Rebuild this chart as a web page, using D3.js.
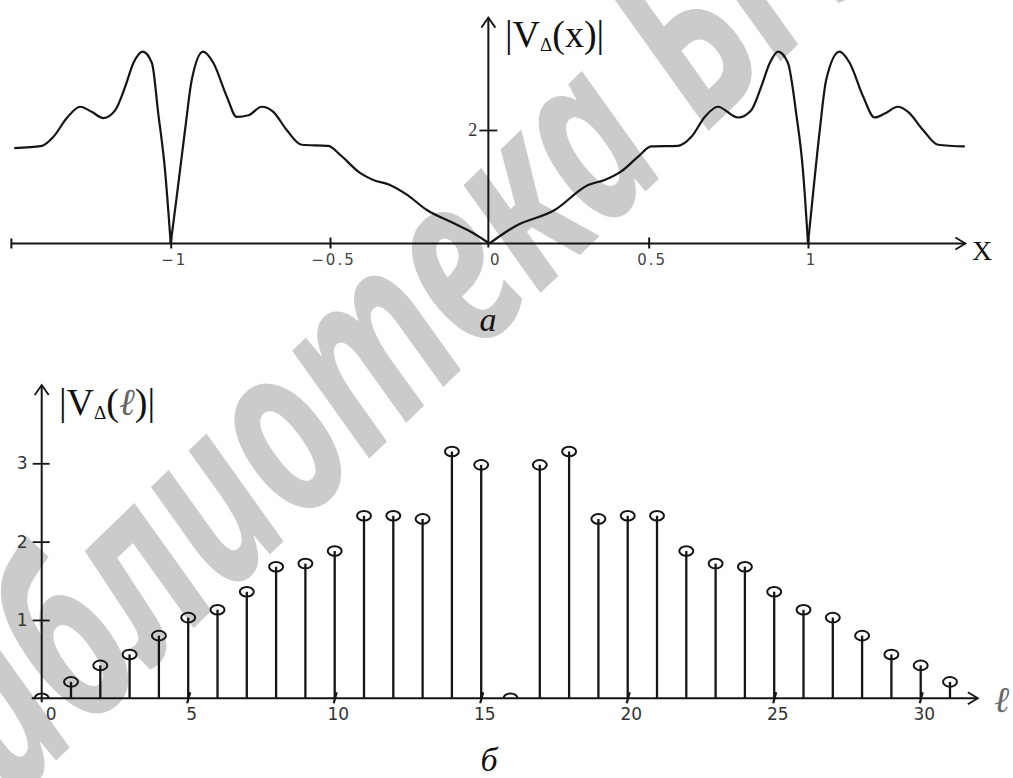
<!DOCTYPE html>
<html>
<head>
<meta charset="utf-8">
<script src="https://cdn.jsdelivr.net/npm/d3@7"></script>
<style>
  body { margin: 0; background: #fff; }
  svg { display: block; }
</style>
</head>
<body>
<div id="chart"></div>
<script>
// ------------------------------
// DATA
// ------------------------------

// curve |V(x)| : x positions and values
const curveX = [-1.491, -1.404, -1.368, -1.326, -1.284, -1.248, -1.211, -1.174, -1.143, -1.117,
  -1.088, -1.059, -1.039, -1.018, -1.0, -0.981, -0.955, -0.934, -0.898, -0.866,
  -0.824, -0.793, -0.756, -0.714, -0.678, -0.636, -0.589, -0.505, -0.468, -0.405,
  -0.364, -0.312, -0.259, -0.196, -0.113, -0.05, 0,
  0.08, 0.205, 0.31, 0.362, 0.414, 0.467, 0.508, 0.592, 0.634,
  0.676, 0.717, 0.78, 0.822, 0.853, 0.88, 0.906, 0.937, 0.963, 0.984,
  1.0, 1.015, 1.037, 1.057, 1.099, 1.131, 1.173, 1.209, 1.241, 1.282,
  1.314, 1.361, 1.408, 1.492];
const curveV = [1.68, 1.72, 1.88, 2.21, 2.41, 2.32, 2.21, 2.35, 2.76, 3.18,
  3.38, 3.18, 2.29, 1.30, 0, 0.83, 2.00, 2.88, 3.38, 3.18,
  2.59, 2.23, 2.26, 2.41, 2.32, 2.00, 1.74, 1.72, 1.56, 1.24,
  1.12, 1.03, 0.86, 0.59, 0.36, 0.18, 0,
  0.30, 0.59, 1.03, 1.12, 1.27, 1.53, 1.71, 1.72, 1.88,
  2.23, 2.41, 2.22, 2.35, 2.76, 3.18, 3.38, 3.18, 2.29, 1.30,
  0, 0.83, 2.00, 2.88, 3.38, 3.18, 2.59, 2.22, 2.29, 2.41,
  2.32, 2.00, 1.74, 1.71];

const topTicksX = [-1, -0.5, 0, 0.5, 1];
const topTicksY = [2];

// discrete spectrum |V(l)|
const ells = [0, 1, 2, 3, 4, 5, 6, 7, 8, 9, 10, 11, 12, 13, 14, 15,
  16, 17, 18, 19, 20, 21, 22, 23, 24, 25, 26, 27, 28, 29, 30, 31];
const stemV = [0, 0.21, 0.42, 0.56, 0.80, 1.03, 1.13, 1.36, 1.68, 1.72, 1.88, 2.33, 2.33, 2.29, 3.15, 2.98,
  0, 2.98, 3.15, 2.29, 2.33, 2.33, 1.88, 1.72, 1.68, 1.36, 1.13, 1.03, 0.80, 0.56, 0.42, 0.21];

const botTicksX = [0, 5, 10, 15, 20, 25, 30];
const botTicksY = [1, 2, 3];

// ------------------------------
// SVG
// ------------------------------
const width = 1013;
const height = 778;
const ink = "#151515";

const svg = d3.select("#chart")
  .append("svg")
  .attr("width", width)
  .attr("height", height)
  .style("background-color", "#fff");

// watermark behind everything (condensed along its baseline)
const wmFs = 240;
const wmSx = 0.7;
const wmAng = -44;
const wm = svg.append("text")
  .attr("x", 0).attr("y", 0)
  .style("font-family", "'Noto Sans', 'Open Sans', sans-serif")
  .style("font-style", "italic")
  .style("font-weight", "bold")
  .style("font-size", wmFs + "px")
  .attr("fill", "#cbcbcb")
  .text("Библиотека БГУИР");
{
  const node = wm.node();
  const pre = node.getSubStringLength(0, 9);
  const aw = node.getSubStringLength(9, 1);
  const ang = wmAng * Math.PI / 180;
  const lx = (pre + aw / 2) * wmSx - 13, ly = -0.27 * wmFs;
  const rx = lx * Math.cos(ang) - ly * Math.sin(ang);
  const ry = lx * Math.sin(ang) + ly * Math.cos(ang);
  wm.attr("transform", `translate(${585 - rx},${160 - ry}) rotate(${wmAng}) scale(${wmSx},1)`);
}

// helper: open arrow head
function arrow(g, x, y, dir) {
  const p = dir === "right"
    ? `M${x - 10},${y - 6}L${x},${y}L${x - 10},${y + 6}`
    : `M${x - 7},${y + 10}L${x},${y}L${x + 7},${y + 10}`;
  g.append("path").attr("d", p).attr("fill", "none")
    .attr("stroke", ink).attr("stroke-width", 1.8);
}

// ==============================
// (а) continuous curve
// ==============================
const xTop = d3.scaleLinear().domain([-1, 1]).range([170.7, 808]);
const yTop = d3.scaleLinear().domain([0, 2]).range([243.5, 130]);

const gTop = svg.append("g");

// x axis
const axTopX = gTop.append("g")
  .attr("transform", `translate(0,${yTop(0)})`)
  .call(d3.axisBottom(xTop).tickValues(topTicksX).tickFormat(d3.format("")).tickSize(0).tickPadding(11));
axTopX.select(".domain").remove();
axTopX.selectAll(".tick line").attr("y1", -6).attr("y2", 5)
  .attr("stroke", ink).attr("stroke-width", 2)
  .filter(d => d === 0).remove();
axTopX.selectAll(".tick text")
  .style("font-family", "'DejaVu Sans', sans-serif").style("font-size", "15px")
  .style("letter-spacing", "2px").attr("fill", "#444")
  .attr("dx", d => d === 0 ? 6 : 3);

gTop.append("line")
  .attr("x1", xTop(-1.5)).attr("x2", xTop(1.494))
  .attr("y1", yTop(0)).attr("y2", yTop(0))
  .attr("stroke", ink).attr("stroke-width", 2);
gTop.append("line")
  .attr("x1", xTop(-1.5)).attr("x2", xTop(-1.5))
  .attr("y1", yTop(0) - 5).attr("y2", yTop(0) + 5)
  .attr("stroke", ink).attr("stroke-width", 2);
arrow(gTop, xTop(1.494), yTop(0), "right");

// y axis
const axTopY = gTop.append("g")
  .attr("transform", `translate(${xTop(0) - 1},0)`)
  .call(d3.axisLeft(yTop).tickValues(topTicksY).tickFormat(d3.format("d")).tickSize(0).tickPadding(11));
axTopY.select(".domain").remove();
axTopY.selectAll(".tick line").attr("x1", -9).attr("x2", 9)
  .attr("stroke", ink).attr("stroke-width", 1.8);
axTopY.selectAll(".tick text")
  .style("font-family", "'Liberation Serif', serif").style("font-size", "18px")
  .attr("fill", "#333");

gTop.append("line")
  .attr("x1", xTop(0) - 1).attr("x2", xTop(0) - 1)
  .attr("y1", yTop(0) + 4).attr("y2", yTop(3.98))
  .attr("stroke", ink).attr("stroke-width", 2);
arrow(gTop, xTop(0) - 1, yTop(3.98), "up");

// curve, split at its zeros so the cusps stay sharp
const pts = curveX.map((x, i) => [x, curveV[i]]);
const segs = [];
let cur = [];
pts.forEach(p => {
  cur.push(p);
  if (p[1] === 0 && cur.length > 1) { segs.push(cur); cur = [p]; }
});
if (cur.length > 1) segs.push(cur);

const lineTop = d3.line()
  .x(d => xTop(d[0]))
  .y(d => yTop(d[1]))
  .curve(d3.curveMonotoneX);

gTop.selectAll("path.curve")
  .data(segs)
  .join("path")
  .attr("class", "curve")
  .attr("d", lineTop)
  .attr("fill", "none")
  .attr("stroke", ink)
  .attr("stroke-width", 2.2)
  .attr("stroke-linejoin", "round");

// label |VΔ(x)|
const labTop = gTop.append("text")
  .attr("x", 505).attr("y", 47)
  .style("font-family", "'Liberation Serif', 'Times New Roman', serif")
  .style("font-size", "38px")
  .attr("fill", "#111");
labTop.append("tspan").text("|V");
labTop.append("tspan").attr("dy", 4).style("font-size", "19px").text("Δ");
labTop.append("tspan").attr("dy", -4).text("(x)|");

gTop.append("text")
  .attr("x", 972).attr("y", 260)
  .style("font-family", "'Liberation Serif', serif")
  .style("font-size", "28px")
  .attr("fill", "#111")
  .text("X");

svg.append("text")
  .attr("x", 488).attr("y", 331)
  .attr("text-anchor", "middle")
  .style("font-family", "'Liberation Serif', serif")
  .style("font-style", "italic")
  .style("font-size", "34px")
  .attr("fill", "#111")
  .text("а");

// ==============================
// (б) discrete spectrum
// ==============================
const xBot = d3.scaleLinear().domain([0, 30]).range([41.7, 920.7]);
const yBot = d3.scaleLinear().domain([0, 3]).range([698.3, 463.3]);

const gBot = svg.append("g");

svg.append("defs").append("clipPath").attr("id", "above-axis")
  .append("rect")
  .attr("x", 0).attr("y", yBot(4.2))
  .attr("width", width).attr("height", yBot(0) - yBot(4.2));

// x axis
const axBotX = gBot.append("g")
  .attr("transform", `translate(0,${yBot(0)})`)
  .call(d3.axisBottom(xBot).tickValues(botTicksX).tickSize(0).tickPadding(10));
axBotX.select(".domain").remove();
axBotX.selectAll(".tick line")
  .attr("x1", -1.5).attr("x2", 1.5).attr("y1", 5).attr("y2", -6)
  .attr("stroke", ink).attr("stroke-width", 2.2)
  .filter(d => d === 0).remove();
axBotX.selectAll(".tick text")
  .style("font-family", "'DejaVu Sans', sans-serif").style("font-size", "17px")
  .attr("fill", "#333")
  .attr("dx", d => d === 0 ? 9 : 3);

gBot.append("line")
  .attr("x1", xBot(-0.34)).attr("x2", xBot(31.95))
  .attr("y1", yBot(0)).attr("y2", yBot(0))
  .attr("stroke", ink).attr("stroke-width", 2);
arrow(gBot, xBot(31.95), yBot(0), "right");

// y axis
const axBotY = gBot.append("g")
  .attr("transform", `translate(${xBot(0)},0)`)
  .call(d3.axisLeft(yBot).tickValues(botTicksY).tickFormat(d3.format("d")).tickSize(0).tickPadding(14));
axBotY.select(".domain").remove();
axBotY.selectAll(".tick line").attr("x1", -9).attr("x2", 8)
  .attr("stroke", ink).attr("stroke-width", 1.8);
axBotY.selectAll(".tick text")
  .style("font-family", "'DejaVu Sans', sans-serif").style("font-size", "17px")
  .attr("fill", "#333");

gBot.append("line")
  .attr("x1", xBot(0)).attr("x2", xBot(0))
  .attr("y1", yBot(0) + 4).attr("y2", yBot(4.0))
  .attr("stroke", ink).attr("stroke-width", 2);
arrow(gBot, xBot(0), yBot(4.0), "up");

// stems
const stems = ells.map((l, i) => ({ l, v: stemV[i] }));

gBot.selectAll("line.stem")
  .data(stems.filter(d => d.v > 0))
  .join("line")
  .attr("class", "stem")
  .attr("x1", d => xBot(d.l)).attr("x2", d => xBot(d.l))
  .attr("y1", yBot(0)).attr("y2", d => yBot(d.v))
  .attr("stroke", ink)
  .attr("stroke-width", 2.3);

gBot.append("g")
  .attr("clip-path", "url(#above-axis)")
  .selectAll("ellipse")
  .data(stems)
  .join("ellipse")
  .attr("cx", d => xBot(d.l))
  .attr("cy", d => yBot(d.v))
  .attr("rx", 7).attr("ry", 4.8)
  .attr("fill", "none")
  .attr("stroke", ink)
  .attr("stroke-width", 2);

// label |VΔ(ℓ)|
const labBot = gBot.append("text")
  .attr("x", 59).attr("y", 415)
  .style("font-family", "'Liberation Serif', 'Times New Roman', serif")
  .style("font-size", "38px")
  .attr("fill", "#111");
labBot.append("tspan").text("|V");
labBot.append("tspan").attr("dy", 4).style("font-size", "19px").text("Δ");
labBot.append("tspan").attr("dy", -4).text("(");
labBot.append("tspan").style("font-style", "italic").attr("fill", "#666").text("ℓ");
labBot.append("tspan").text(")|");

gBot.append("text")
  .attr("x", 994).attr("y", 712)
  .style("font-family", "'Liberation Serif', serif")
  .style("font-style", "italic")
  .style("font-size", "36px")
  .attr("fill", "#666")
  .text("ℓ");

svg.append("text")
  .attr("x", 489).attr("y", 771)
  .attr("text-anchor", "middle")
  .style("font-family", "'Liberation Serif', serif")
  .style("font-style", "italic")
  .style("font-size", "34px")
  .attr("fill", "#111")
  .text("б");
</script>
</body>
</html>
